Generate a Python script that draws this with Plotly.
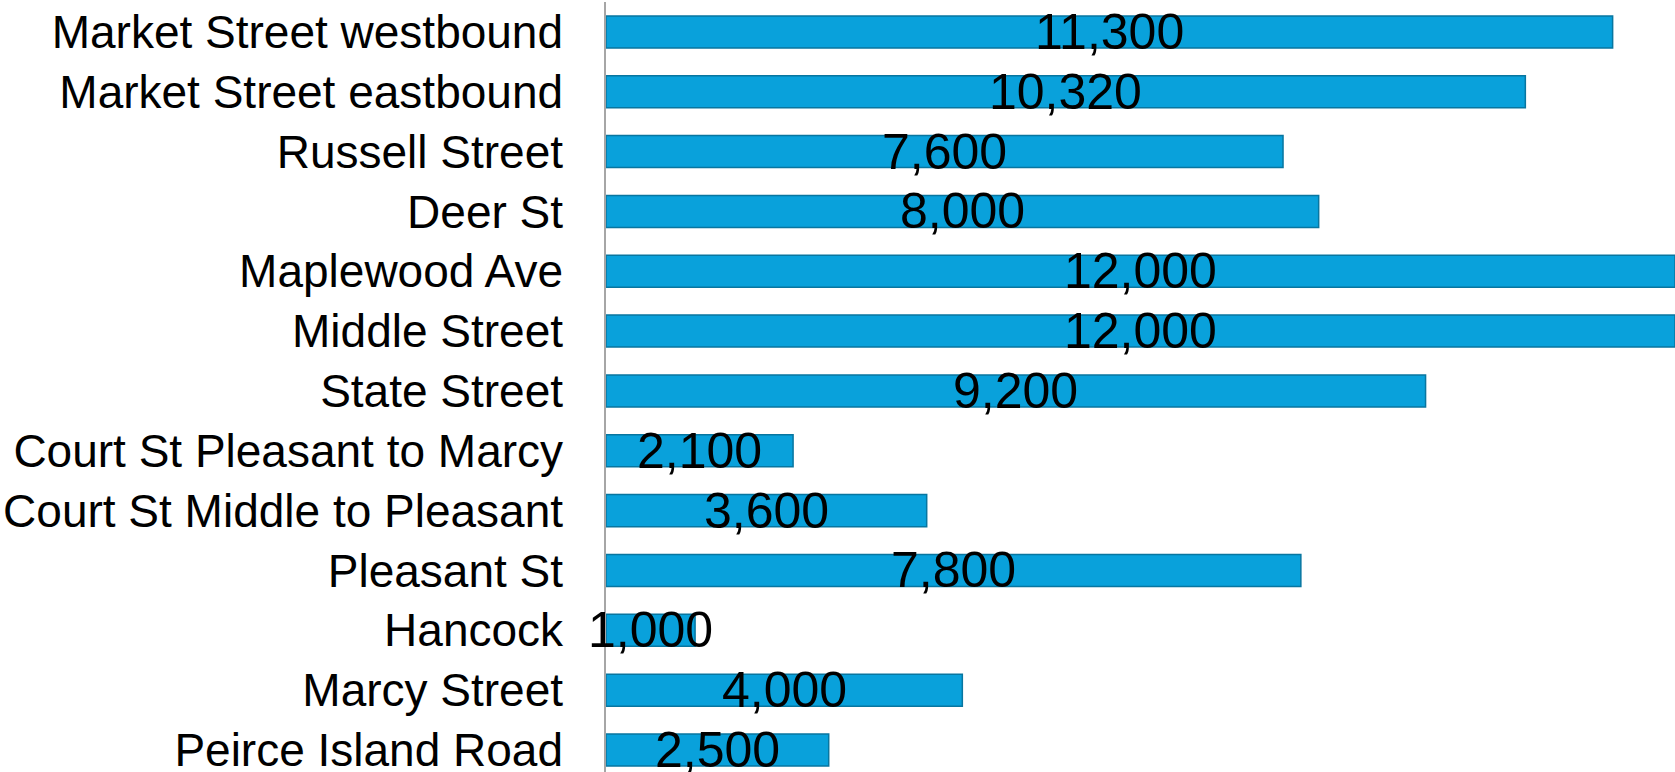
import plotly.graph_objects as go

categories = [
    "Market Street westbound",
    "Market Street eastbound",
    "Russell Street",
    "Deer St",
    "Maplewood Ave",
    "Middle Street",
    "State Street",
    "Court St Pleasant to Marcy",
    "Court St Middle to Pleasant",
    "Pleasant St",
    "Hancock",
    "Marcy Street",
    "Peirce Island Road",
]
values = [11300, 10320, 7600, 8000, 12000, 12000, 9200, 2100, 3600, 7800, 1000, 4000, 2500]
value_labels = [f"{v:,}" for v in values]

fig = go.Figure()
fig.add_trace(go.Bar(
    x=values, y=categories, orientation="h",
    width=0.535,
    marker=dict(color="#09A1DB", line=dict(color="#0876A0", width=1.5)),
    hoverinfo="skip", showlegend=False,
))

for cat, val, lab in zip(categories, values, value_labels):
    fig.add_annotation(
        x=val / 2, y=cat, text=lab, showarrow=False,
        xanchor="center", yanchor="middle", yshift=0,
        font=dict(family="Liberation Sans, Arial, sans-serif", size=50, color="#000000"),
    )

fig.update_layout(
    width=1675, height=772,
    margin=dict(l=606, r=0, t=2, b=0, autoexpand=False),
    paper_bgcolor="white", plot_bgcolor="white",
    font=dict(family="Liberation Sans, Arial, sans-serif", color="#000000"),
)
fig.update_xaxes(range=[0, 12000], showgrid=False, zeroline=False,
                 showticklabels=False, showline=False, ticks="", automargin=False)
fig.update_yaxes(
    type="category", categoryorder="array", categoryarray=categories,
    range=[12.368, -0.5], showgrid=False, zeroline=False,
    showline=True, linecolor="#A6A6A6", linewidth=1.5,
    ticks="", ticklabelstandoff=32, automargin=False,
    tickfont=dict(family="Liberation Sans, Arial, sans-serif", size=46, color="#000000"),
)

fig.write_html(
    "out.html",
    config={"displayModeBar": False},
    post_script="document.body.style.margin='0';document.body.style.overflow='hidden';",
)
